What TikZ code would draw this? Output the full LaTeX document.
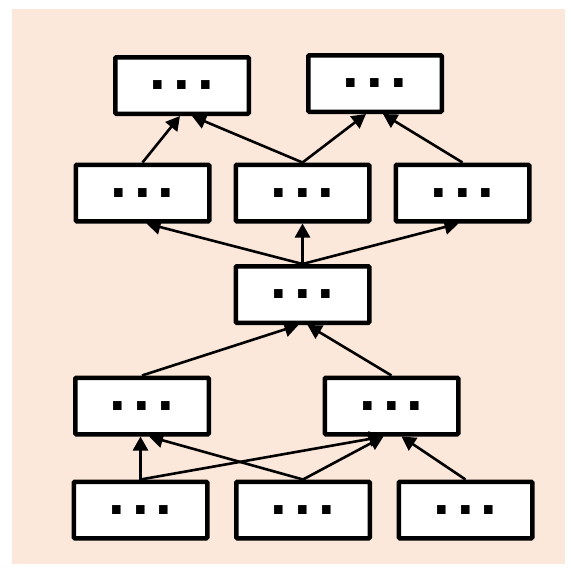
\documentclass[tikz,border=0pt]{standalone}
\usepackage{fontspec}
\setmainfont{Liberation Sans}
\usepackage{tikz}
\usetikzlibrary{arrows.meta}

\definecolor{peach}{RGB}{252,232,219}
\newcommand{\dotrow}{\fontsize{60}{60}\selectfont\bfseries .\kern7pt.\kern7pt.}

\begin{document}
\begin{tikzpicture}[x=1pt,y=-1pt,
  box/.style={draw=black, line width=4.5pt, fill=white, rounded corners=1pt,
    minimum width=133.5pt, minimum height=56.5pt, inner sep=0pt,
    text height=8.4pt, text depth=0pt},
  link/.style={line width=2.6pt, -{Triangle[length=14pt,width=15pt]}}]
\useasboundingbox (0,0) rectangle (571,570);
\fill[peach] (12,9) rectangle (565,564);
% top row
\node[box] (t1) at (182,85.5) {\dotrow};
\node[box] (t2) at (375,83.5) {\dotrow};
% second row
\node[box] (m1) at (142.5,193) {\dotrow};
\node[box] (m2) at (302.5,193) {\dotrow};
\node[box] (m3) at (462.5,193) {\dotrow};
% middle
\node[box] (c) at (302.5,294.5) {\dotrow};
% fourth row
\node[box] (l1) at (142,406) {\dotrow};
\node[box] (l2) at (391.5,406) {\dotrow};
% bottom row
\node[box] (b1) at (140.5,510) {\dotrow};
\node[box] (b2) at (303,510) {\dotrow};
\node[box] (b3) at (465.5,510) {\dotrow};
% links
\draw[link] (m1.north) -- ([xshift=-2pt]t1.south);
\draw[link] (m2.north) -- ([xshift=10pt]t1.south);
\draw[link] (m2.north) -- ([xshift=-9pt]t2.south);
\draw[link] (m3.north) -- ([xshift=8pt]t2.south);
\draw[link] (c.north) -- ([xshift=4pt]m1.south);
\draw[link] (c.north) -- (m2.south);
\draw[link] (c.north) -- ([xshift=-4pt]m3.south);
\draw[link] (l1.north) -- ([xshift=-4pt]c.south);
\draw[link] (l2.north) -- ([xshift=5pt]c.south);
\draw[link] (b1.north) -- ([xshift=-1.5pt]l1.south);
\draw[link] (b2.north) -- ([xshift=7pt]l1.south);
\draw[link] (b1.north) -- ([xshift=-8pt]l2.south);
\draw[link] (b2.north) -- ([xshift=-8pt]l2.south);
\draw[link] (b3.north) -- ([xshift=10pt]l2.south);
\end{tikzpicture}
\end{document}
